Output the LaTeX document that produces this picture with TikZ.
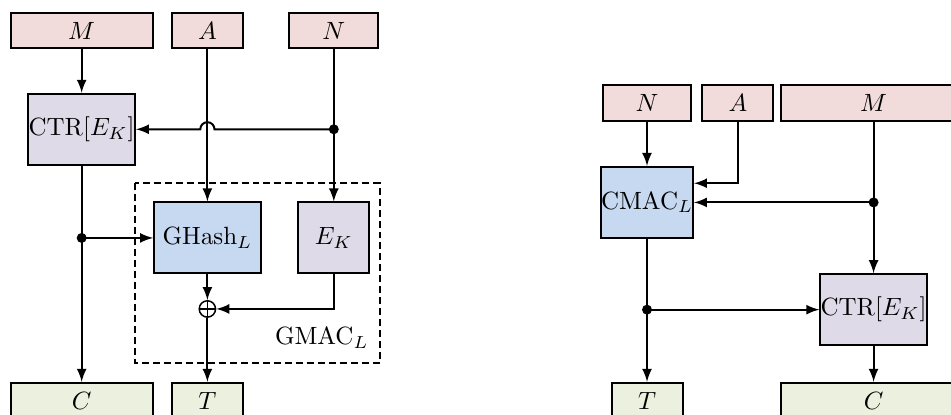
\documentclass[tikz,border=0pt]{standalone}
\usepackage{amsmath}
\usepackage{tikz}
\usetikzlibrary{positioning,calc,arrows}

\definecolor{inred}{HTML}{F2DCDB}
\definecolor{ctrviolet}{HTML}{DFDAE7}
\definecolor{macblue}{HTML}{C6D9F0}
\definecolor{outgreen}{HTML}{EBF1DE}

\begin{document}
\begin{tikzpicture}[
blk/.style={
  draw,
  thick,
  inner sep=0pt,
  minimum height=0.5cm
  },
input/.style={blk, fill=inred},
output/.style={blk, fill=outgreen},
cipher/.style={blk, fill=ctrviolet, minimum height=1cm},
hash/.style={blk, fill=macblue, minimum height=1cm},
junction/.style={
  circle,
  fill,
  inner sep=0pt,
  minimum size=4pt
  },
xorop/.style={
  circle,
  draw,
  line width=0.6pt,
  inner sep=0pt,
  minimum size=0.23cm,
  path picture={
    \draw[line width=0.6pt] (path picture bounding box.north) -- (path picture bounding box.south)
      (path picture bounding box.west) -- (path picture bounding box.east);
    }
  },
gmacbox/.style={
  draw,
  thick,
  dash pattern=on 2.8pt off 1.6pt
  },
>=latex,
thick
]
\useasboundingbox (0,0) rectangle (13.39,-5.83);
\clip (0,0) rectangle (13.39,-5.83);

% GCM
\node[input, minimum width=2cm] (m) at (1.15,-0.43) {$M$};
\node[input, minimum width=1cm] (a) at (2.92,-0.43) {$A$};
\node[input, minimum width=1.25cm] (n) at (4.70,-0.43) {$N$};
\node[cipher, minimum width=1.5cm] (ctr) at (1.15,-1.82) {$\mathrm{CTR}[E_K]$};
\node[hash, minimum width=1.5cm] (ghash) at (2.92,-3.35) {$\mathrm{GHash}_L$};
\node[cipher, minimum width=1cm] (ek) at (4.70,-3.35) {$E_K$};
\node[xorop] (xor) at (2.92,-4.35) {};
\node[output, minimum width=2cm] (c) at (1.15,-5.64) {$C$};
\node[output, minimum width=1cm] (t) at (2.92,-5.64) {$T$};
\node[junction] (nsplit) at (n |- ctr) {};
\node[junction] (csplit) at (ctr |- ghash) {};
\draw[gmacbox] (1.90,-2.58) rectangle (5.35,-5.11);
\node (gmac) at (4.53,-4.76) {$\mathrm{GMAC}_L$};

\foreach \src/\dst in {m/ctr, a/ghash, n/ek, ctr/c, ghash/xor, xor/t}
  \draw[->] (\src) -- (\dst);
\draw[->] (nsplit.center) -- ($(a.south |- nsplit)+(0.1,0)$)
  arc[start angle=0, end angle=180, radius=0.1] -- (ctr.east);
\draw[->] (csplit.center) -- (ghash.west);
\draw[->] (ek.south) |- (xor.east);

% SIV
\node[input, minimum width=1.25cm] (n2) at (9.11,-1.45) {$N$};
\node[input, minimum width=1cm] (a2) at (10.39,-1.45) {$A$};
\node[input, minimum width=2.6cm] (m2) at (12.30,-1.45) {$M$};
\node[hash, minimum width=1.25cm] (cmac) at (9.11,-2.85) {$\mathrm{CMAC}_L$};
\node[cipher, minimum width=1.5cm] (ctr2) at (12.30,-4.36) {$\mathrm{CTR}[E_K]$};
\node[output, minimum width=1cm] (t2) at (9.11,-5.64) {$T$};
\node[output, minimum width=2.6cm] (c2) at (12.30,-5.64) {$C$};
\node[junction] (msplit) at (m2 |- cmac) {};
\node[junction] (tsplit) at (cmac |- ctr2) {};

\foreach \src/\dst in {n2/cmac, m2/ctr2, cmac/t2, ctr2/c2}
  \draw[->] (\src) -- (\dst);
\draw[->] (a2.south) |- ($(cmac.east)+(0,0.27)$);
\draw[->] (msplit.center) -- (cmac.east);
\draw[->] (tsplit.center) -- (ctr2.west);
\end{tikzpicture}
\end{document}
